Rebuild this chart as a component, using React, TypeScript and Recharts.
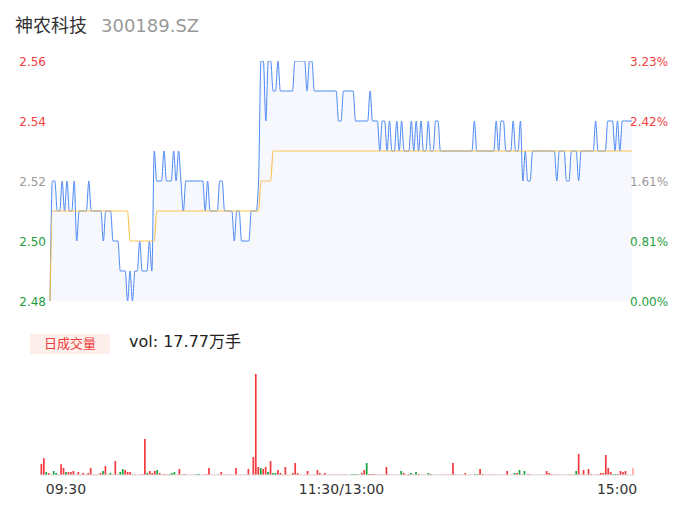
import React from 'react';
import { ComposedChart, Area, Line, Bar, Cell, XAxis, YAxis } from 'recharts';

const PREV_CLOSE = 2.48;
const priceTicks = [2.48, 2.5, 2.52, 2.54, 2.56];
const timeTicks = [0, 120, 240];
const timeLabels = ['09:30', '11:30/13:00', '15:00'];

// minute close, 09:30 .. 15:00 (241 points)
const prices = [
  2.48, 2.52, 2.52, 2.51, 2.51, 2.52, 2.51, 2.52, 2.51, 2.51,
  2.52, 2.50, 2.51, 2.51, 2.51, 2.51, 2.52, 2.51, 2.51, 2.51,
  2.51, 2.51, 2.50, 2.51, 2.51, 2.51, 2.50, 2.50, 2.50, 2.49,
  2.49, 2.49, 2.48, 2.49, 2.48, 2.49, 2.49, 2.50, 2.49, 2.49,
  2.49, 2.50, 2.49, 2.53, 2.52, 2.52, 2.52, 2.53, 2.52, 2.52,
  2.52, 2.53, 2.52, 2.53, 2.52, 2.51, 2.52, 2.52, 2.52, 2.52,
  2.52, 2.52, 2.52, 2.52, 2.51, 2.52, 2.51, 2.51, 2.51, 2.51,
  2.52, 2.52, 2.51, 2.51, 2.51, 2.51, 2.50, 2.51, 2.51, 2.50,
  2.50, 2.50, 2.50, 2.51, 2.51, 2.51, 2.52, 2.56, 2.56, 2.54,
  2.56, 2.56, 2.55, 2.55, 2.56, 2.55, 2.55, 2.55, 2.55, 2.55,
  2.55, 2.56, 2.56, 2.56, 2.56, 2.56, 2.55, 2.56, 2.56, 2.55,
  2.55, 2.55, 2.55, 2.55, 2.55, 2.55, 2.55, 2.55, 2.55, 2.54,
  2.54, 2.55, 2.55, 2.55, 2.55, 2.55, 2.54, 2.54, 2.54, 2.54,
  2.54, 2.54, 2.55, 2.54, 2.54, 2.54, 2.53, 2.54, 2.54, 2.53,
  2.54, 2.53, 2.53, 2.54, 2.53, 2.54, 2.53, 2.53, 2.53, 2.54,
  2.53, 2.54, 2.53, 2.54, 2.53, 2.53, 2.54, 2.53, 2.53, 2.54,
  2.54, 2.53, 2.53, 2.53, 2.53, 2.53, 2.53, 2.53, 2.53, 2.53,
  2.53, 2.53, 2.53, 2.53, 2.53, 2.54, 2.53, 2.53, 2.53, 2.53,
  2.53, 2.53, 2.53, 2.53, 2.54, 2.53, 2.54, 2.54, 2.53, 2.53,
  2.53, 2.54, 2.53, 2.53, 2.54, 2.52, 2.53, 2.52, 2.52, 2.53,
  2.53, 2.53, 2.53, 2.53, 2.53, 2.53, 2.53, 2.53, 2.53, 2.52,
  2.53, 2.53, 2.53, 2.52, 2.52, 2.53, 2.53, 2.53, 2.52, 2.53,
  2.53, 2.53, 2.53, 2.53, 2.53, 2.54, 2.53, 2.53, 2.53, 2.53,
  2.54, 2.54, 2.54, 2.53, 2.54, 2.53, 2.54, 2.54, 2.54, 2.54,
  2.54,
];

// running average price
const avgPrices = [
  2.48, 2.51, 2.51, 2.51, 2.51, 2.51, 2.51, 2.51, 2.51, 2.51,
  2.51, 2.51, 2.51, 2.51, 2.51, 2.51, 2.51, 2.51, 2.51, 2.51,
  2.51, 2.51, 2.51, 2.51, 2.51, 2.51, 2.51, 2.51, 2.51, 2.51,
  2.51, 2.51, 2.51, 2.50, 2.50, 2.50, 2.50, 2.50, 2.50, 2.50,
  2.50, 2.50, 2.50, 2.50, 2.51, 2.51, 2.51, 2.51, 2.51, 2.51,
  2.51, 2.51, 2.51, 2.51, 2.51, 2.51, 2.51, 2.51, 2.51, 2.51,
  2.51, 2.51, 2.51, 2.51, 2.51, 2.51, 2.51, 2.51, 2.51, 2.51,
  2.51, 2.51, 2.51, 2.51, 2.51, 2.51, 2.51, 2.51, 2.51, 2.51,
  2.51, 2.51, 2.51, 2.51, 2.51, 2.51, 2.51, 2.52, 2.52, 2.52,
  2.52, 2.52, 2.53, 2.53, 2.53, 2.53, 2.53, 2.53, 2.53, 2.53,
  2.53, 2.53, 2.53, 2.53, 2.53, 2.53, 2.53, 2.53, 2.53, 2.53,
  2.53, 2.53, 2.53, 2.53, 2.53, 2.53, 2.53, 2.53, 2.53, 2.53,
  2.53, 2.53, 2.53, 2.53, 2.53, 2.53, 2.53, 2.53, 2.53, 2.53,
  2.53, 2.53, 2.53, 2.53, 2.53, 2.53, 2.53, 2.53, 2.53, 2.53,
  2.53, 2.53, 2.53, 2.53, 2.53, 2.53, 2.53, 2.53, 2.53, 2.53,
  2.53, 2.53, 2.53, 2.53, 2.53, 2.53, 2.53, 2.53, 2.53, 2.53,
  2.53, 2.53, 2.53, 2.53, 2.53, 2.53, 2.53, 2.53, 2.53, 2.53,
  2.53, 2.53, 2.53, 2.53, 2.53, 2.53, 2.53, 2.53, 2.53, 2.53,
  2.53, 2.53, 2.53, 2.53, 2.53, 2.53, 2.53, 2.53, 2.53, 2.53,
  2.53, 2.53, 2.53, 2.53, 2.53, 2.53, 2.53, 2.53, 2.53, 2.53,
  2.53, 2.53, 2.53, 2.53, 2.53, 2.53, 2.53, 2.53, 2.53, 2.53,
  2.53, 2.53, 2.53, 2.53, 2.53, 2.53, 2.53, 2.53, 2.53, 2.53,
  2.53, 2.53, 2.53, 2.53, 2.53, 2.53, 2.53, 2.53, 2.53, 2.53,
  2.53, 2.53, 2.53, 2.53, 2.53, 2.53, 2.53, 2.53, 2.53, 2.53,
  2.53,
];

// minute volume, lots (手)
const volumes = [
  3200, 4900, 860, 560, 310, 1150, 590, 280, 3150, 2050,
  880, 850, 900, 1180, 300, 860, 270, 600, 250, 560,
  2040, 300, 240, 290, 570, 1170, 2620, 310, 590, 260,
  4060, 300, 880, 1720, 1460, 870, 860, 300, 280, 150,
  290, 300, 10440, 600, 1150, 580, 1190, 1450, 560, 290,
  310, 270, 300, 590, 880, 290, 1740, 300, 280, 260,
  140, 150, 130, 290, 300, 140, 290, 300, 2030, 290,
  150, 140, 300, 870, 140, 280, 300, 290, 150, 2040,
  300, 140, 150, 140, 1730, 150, 5220, 29290, 2320, 2030,
  1740, 2330, 870, 4050, 590, 580, 1450, 580, 290, 2320,
  300, 140, 580, 3480, 590, 150, 140, 290, 1160, 150,
  140, 290, 1450, 580, 150, 580, 140, 290, 280, 300,
  290, 270, 300, 290, 280, 150, 290, 300, 280, 290,
  580, 1450, 3480, 300, 290, 300, 140, 290, 300, 280,
  2320, 290, 150, 140, 290, 150, 1160, 580, 290, 300,
  580, 290, 870, 290, 140, 150, 140, 580, 300, 140,
  150, 140, 150, 140, 290, 300, 290, 3480, 290, 300,
  150, 140, 580, 150, 290, 140, 300, 290, 1740, 300,
  140, 150, 290, 300, 140, 150, 140, 290, 300, 1160,
  140, 150, 580, 590, 1450, 290, 1160, 290, 300, 140,
  150, 140, 150, 140, 150, 1160, 580, 290, 140, 290,
  300, 150, 140, 290, 300, 290, 280, 1160, 6090, 290,
  1450, 140, 1740, 300, 290, 150, 290, 580, 590, 5800,
  2030, 870, 300, 290, 300, 1160, 870, 1160, 150, 140,
  2030,
];

// u = up, d = down, f = flat, one char per minute
const volDirs = [
  'uudufddfuu', 'duuufufufu', 'ufffudufdf', 'ufdduuufff', 'fuuduuuduf',
  'ufdddfufuf', 'fffddffuuf', 'fffufffffu', 'ffffufuuud', 'uududduufu',
  'ffuuufffuf', 'ffuufuffff', 'ffffffdddf', 'uuduuuffff', 'ufffffdufu',
  'dfdufffduf', 'fffffffuff', 'ffufffdduu', 'fffffffffu', 'ffdudfdfuf',
  'fffffuuuff', 'fffffffduf', 'ufuuffuuuu', 'uudduuuuff', 'f',
].join('');

const RED = '#f2403f';
const GREEN = '#1f9e3e';
const GREY = '#999999';
const tickColors = [GREEN, GREEN, GREY, RED, RED];
const barColors: Record<string, string> = { u: '#f5383c', d: '#14a33a', f: '#ffabab' };

const priceData = prices.map((p, i) => ({ i, price: p, avg: avgPrices[i] }));
const volData = volumes.map((v, k) => ({ k, vol: v, dir: volDirs[k] }));

const FONT = '"DejaVu Sans", "Noto Sans CJK SC", sans-serif';

const PriceTick = (props: any) => {
  const { x, y, payload, side } = props;
  const idx = priceTicks.indexOf(payload.value);
  const label =
    side === 'left'
      ? payload.value.toFixed(2)
      : `${(((payload.value - PREV_CLOSE) / PREV_CLOSE) * 100).toFixed(2)}%`;
  return (
    <text
      x={x}
      y={y}
      dy="0.42em"
      textAnchor={side === 'left' ? 'end' : 'start'}
      fill={tickColors[idx] ?? GREY}
      fontSize={12}
      fontFamily={FONT}
    >
      {label}
    </text>
  );
};

const TimeTick = (props: any) => {
  const { x, y, payload } = props;
  const idx = timeTicks.indexOf(payload.value);
  const anchor = idx === 0 ? 'start' : idx === timeTicks.length - 1 ? 'end' : 'middle';
  return (
    <text x={x + 4} y={y + 19} textAnchor={anchor} fill="#333" fontSize={14} fontFamily={FONT}>
      {timeLabels[idx]}
    </text>
  );
};

export default function App() {
  return (
    <div
      style={{
        position: 'absolute',
        left: 0,
        top: 0,
        width: 686,
        height: 524,
        background: '#fff',
        fontFamily: FONT,
      }}
    >
      <div style={{ position: 'absolute', left: 15, top: 14, fontSize: 18, lineHeight: '24px', color: '#333' }}>
        神农科技
      </div>
      <div style={{ position: 'absolute', left: 101, top: 14, fontSize: 18, lineHeight: '24px', color: '#999' }}>
        300189.SZ
      </div>

      <div style={{ position: 'absolute', left: 0, top: 0 }}>
        <ComposedChart
          width={686}
          height={320}
          data={priceData}
          margin={{ top: 61, right: 0, bottom: 19, left: 0 }}
        >
          <XAxis dataKey="i" type="number" domain={[0, 240]} hide />
          <YAxis
            yAxisId="price"
            domain={[2.48, 2.56]}
            ticks={priceTicks}
            allowDataOverflow
            width={50}
            axisLine={false}
            tickLine={false}
            tickSize={0}
            tickMargin={4}
            tick={<PriceTick side="left" />}
            interval={0}
          />
          <YAxis
            yAxisId="pct"
            orientation="right"
            domain={[2.48, 2.56]}
            ticks={priceTicks}
            allowDataOverflow
            width={54}
            axisLine={false}
            tickLine={false}
            tickSize={0}
            tickMargin={-2}
            tick={<PriceTick side="right" />}
            interval={0}
          />
          <Area
            yAxisId="price"
            type="monotone"
            dataKey="price"
            stroke="#4d89f5"
            strokeWidth={1}
            fill="#f6f8fe"
            fillOpacity={1}
            baseValue={PREV_CLOSE}
            dot={false}
            activeDot={false}
            isAnimationActive={false}
          />
          <Line
            yAxisId="pct"
            type="monotone"
            dataKey="avg"
            stroke="#f6bf45"
            strokeOpacity={0.9}
            strokeWidth={1.2}
            dot={false}
            activeDot={false}
            isAnimationActive={false}
          />
        </ComposedChart>
      </div>

      <div
        style={{
          position: 'absolute',
          left: 30,
          top: 334,
          width: 80,
          height: 20,
          background: '#fdefeb',
          color: '#f23c3c',
          fontSize: 13,
          lineHeight: '20px',
          textAlign: 'center',
        }}
      >
        日成交量
      </div>
      <div style={{ position: 'absolute', left: 129, top: 331, fontSize: 16, lineHeight: '22px', color: '#222' }}>
        vol: 17.77万手
      </div>

      <div style={{ position: 'absolute', left: 0, top: 360 }}>
        <ComposedChart
          width={686}
          height={150}
          data={volData}
          margin={{ top: 14, right: 51.5, bottom: 0, left: 40.5 }}
        >
          <XAxis
            dataKey="k"
            height={35}
            ticks={timeTicks}
            interval={0}
            axisLine={{ stroke: '#dddddd' }}
            tickLine={false}
            tickSize={0}
            tickMargin={0}
            tick={<TimeTick />}
          />
          <YAxis hide domain={[0, 'dataMax']} />
          <Bar dataKey="vol" barSize={1.7} isAnimationActive={false}>
            {volData.map((d) => (
              <Cell key={d.k} fill={barColors[d.dir]} />
            ))}
          </Bar>
        </ComposedChart>
      </div>
    </div>
  );
}
